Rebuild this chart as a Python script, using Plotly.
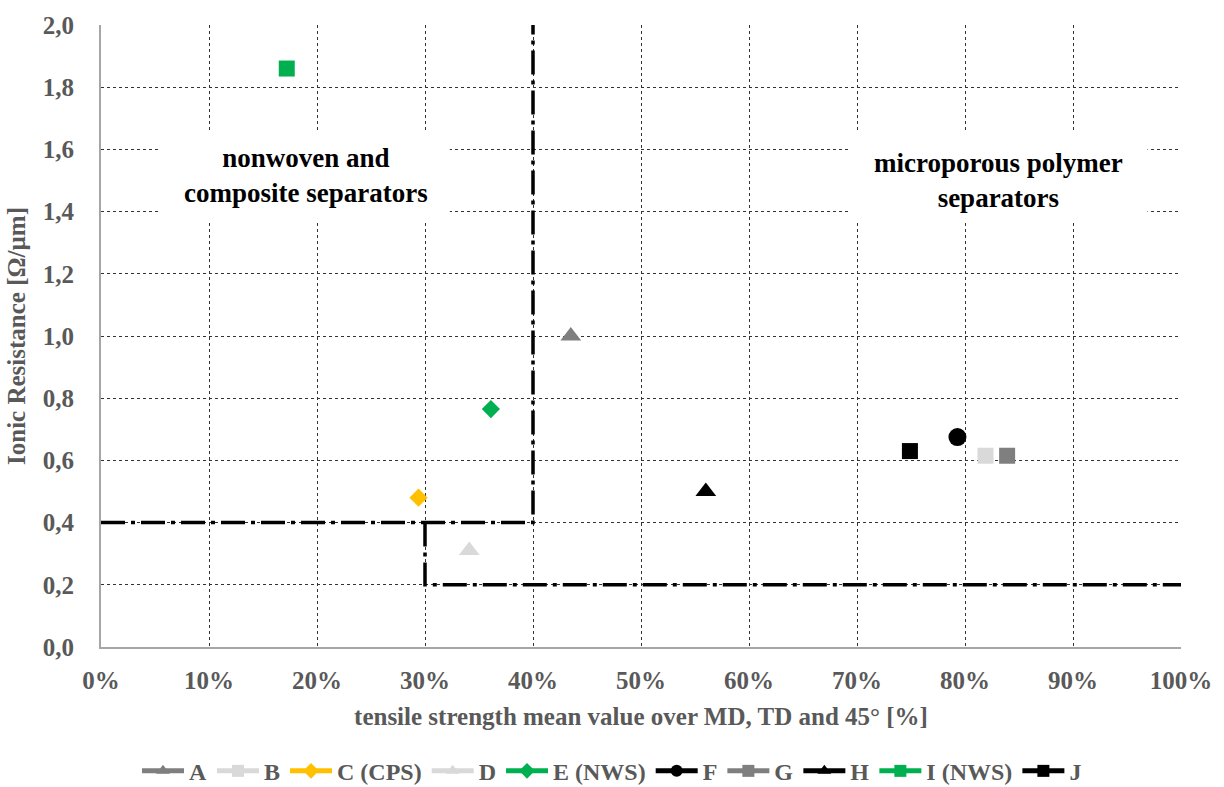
import plotly.graph_objects as go

# Data
names = ["A", "B", "C (CPS)", "D", "E (NWS)", "F", "G", "H", "I (NWS)", "J"]
tensile_pct = [43.5, 81.9, 29.4, 34.1, 36.1, 79.3, 83.9, 56.0, 17.2, 74.9]
ionic_res = [1.00, 0.615, 0.48, 0.31, 0.765, 0.675, 0.615, 0.50, 1.86, 0.63]
symbols = ["triangle-up", "square", "diamond", "triangle-up", "diamond",
           "circle", "square", "triangle-up", "square", "square"]
colors = ["#7f7f7f", "#d9d9d9", "#ffc000", "#d9d9d9", "#00b050",
          "#000000", "#7f7f7f", "#000000", "#00b050", "#000000"]
sizes = [18, 16, 14, 18, 14, 18, 16, 18, 16, 16]

# Region boundary lines (dash-dot)
boundary_upper_x = [0, 40, 40]
boundary_upper_y = [0.4, 0.4, 2.0]
boundary_lower_x = [30, 30, 100]
boundary_lower_y = [0.4, 0.2, 0.2]

x_ticks = list(range(0, 101, 10))
x_tick_labels = [f"{v}%" for v in x_ticks]
y_ticks = [round(0.2 * i, 1) for i in range(11)]

FONT = "Liberation Serif"
GRAY = "#595959"

fig = go.Figure()

for bx, by in [(boundary_upper_x, boundary_upper_y), (boundary_lower_x, boundary_lower_y)]:
    fig.add_trace(go.Scatter(x=bx, y=by, mode="lines", showlegend=False, hoverinfo="skip",
                             line=dict(color="black", width=3.5, dash="24px,6px,4px,6px")))

for n, xv, yv, s, c, sz in zip(names, tensile_pct, ionic_res, symbols, colors, sizes):
    fig.add_trace(go.Scatter(
        x=[xv], y=[yv], mode="lines+markers", name=n,
        marker=dict(symbol=s, color=c, size=sz, line=dict(width=0)),
        line=dict(color=c, width=3),
    ))

# White label boxes hiding the grid
fig.add_shape(type="rect", x0=5.3, x1=32.3, y0=1.364, y1=1.653, xref="x", yref="y",
              fillcolor="white", line=dict(width=0), layer="between")
fig.add_shape(type="rect", x0=69.4, x1=96.9, y0=1.364, y1=1.653, xref="x", yref="y",
              fillcolor="white", line=dict(width=0), layer="between")

fig.add_annotation(x=19.0, y=1.515, xref="x", yref="y", showarrow=False,
                   text="<b>nonwoven and<br>composite separators</b>",
                   font=dict(family=FONT, size=27, color="black"), align="center")
fig.add_annotation(x=83.1, y=1.50, xref="x", yref="y", showarrow=False,
                   text="<b>microporous polymer<br>separators</b>",
                   font=dict(family=FONT, size=27, color="black"), align="center")

fig.update_layout(
    width=1224, height=787,
    margin=dict(l=101, r=43, t=18, b=140),
    paper_bgcolor="white", plot_bgcolor="white",
    separators=",.",
    font=dict(family=FONT, color=GRAY),
    showlegend=True,
    legend=dict(orientation="h", x=0.5, xanchor="center", xref="container",
                y=0.02, yanchor="middle", yref="container",
                font=dict(family=FONT, size=24, color=GRAY, weight="bold"),
                itemwidth=42, itemsizing="constant"),
)

fig.update_xaxes(
    range=[0, 100], tickvals=x_ticks, ticktext=x_tick_labels,
    showgrid=True, gridcolor="#333333", griddash="dot", gridwidth=1,
    showline=True, linecolor="#a6a6a6", linewidth=2, zeroline=False,
    tickfont=dict(family=FONT, size=25, color=GRAY, weight="bold"),
    ticks="", ticklabelstandoff=10,
    title=dict(text="<b>tensile strength mean value over MD, TD and 45° [%]</b>",
               font=dict(family=FONT, size=25, color=GRAY), standoff=14),
)
fig.update_yaxes(
    range=[0, 2.0], tickvals=y_ticks, tickformat=".1f",
    showgrid=True, gridcolor="#333333", griddash="dot", gridwidth=1,
    showline=True, linecolor="#a6a6a6", linewidth=2, zeroline=False,
    tickfont=dict(family=FONT, size=25, color=GRAY, weight="bold"),
    ticks="", ticklabelstandoff=20,
    title=dict(text="<b>Ionic Resistance [Ω/µm]</b>",
               font=dict(family=FONT, size=25, color=GRAY), standoff=10),
)

fig.write_html("out.html")
